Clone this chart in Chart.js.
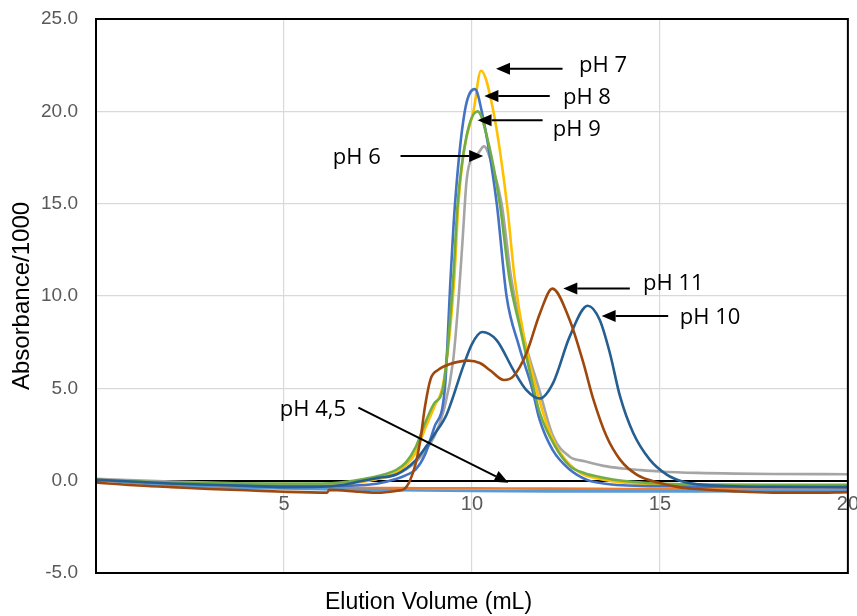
<!DOCTYPE html>
<html><head><meta charset="utf-8">
<script src="https://cdn.jsdelivr.net/npm/chart.js@4.4.1/dist/chart.umd.min.js"></script>
<style>html,body{margin:0;padding:0;background:#fff}#wrap{width:857px;height:616px}</style>
</head><body><div id="wrap"><canvas id="c" width="857" height="616"></canvas></div>
<script>
// Elution volume (mL) and absorbance/1000 for each pH
const vol_pH4 = [0, 1, 2, 3, 4, 6, 8, 10, 12, 14, 16, 18, 20];
const abs_pH4 = [0.05, -0.1, -0.2, -0.28, -0.32, -0.38, -0.4, -0.42, -0.43, -0.45, -0.47, -0.48, -0.48];

const vol_pH5 = [0, 1, 2, 3, 4, 6, 8, 10, 12, 14, 16, 18, 20];
const abs_pH5 = [0.05, -0.12, -0.25, -0.35, -0.4, -0.46, -0.52, -0.56, -0.58, -0.58, -0.58, -0.57, -0.56];

const vol_pH6 = [0, 2, 4, 6, 6.5, 7, 7.5, 8, 8.5, 8.75, 9, 9.25, 9.5, 9.65, 9.75, 9.86, 10, 10.15, 10.32, 10.55, 10.79, 11.05, 11.4, 11.78, 12.16, 12.6, 13, 13.5, 14, 14.5, 15, 16, 17, 18, 20];
const abs_pH6 = [0.1, -0.05, -0.15, -0.2, -0.15, -0.05, 0.1, 0.35, 1.0, 1.6, 2.4, 3.8, 6.5, 10.0, 13.0, 16.3, 17.5, 17.7, 18.1, 17.0, 15.0, 10.9, 7.6, 5.0, 2.4, 1.3, 1.05, 0.8, 0.66, 0.57, 0.5, 0.42, 0.38, 0.36, 0.35];

const vol_pH7 = [0, 2, 4, 6, 6.5, 7, 7.5, 8, 8.25, 8.5, 8.75, 9, 9.25, 9.53, 9.64, 9.8, 10.04, 10.24, 10.57, 10.93, 11.14, 11.4, 11.71, 12, 12.25, 12.5, 12.75, 13, 13.5, 14, 15, 16, 18, 20];
const abs_pH7 = [0.05, -0.15, -0.25, -0.3, -0.25, -0.1, 0.1, 0.45, 0.85, 1.5, 2.8, 4.0, 5.4, 10.9, 15.0, 18.0, 20.0, 22.2, 20.0, 15.0, 10.9, 7.6, 5.0, 3.0, 1.85, 1.1, 0.6, 0.3, 0.05, -0.1, -0.25, -0.3, -0.32, -0.32];

const vol_pH8 = [0, 2, 4, 6, 7, 7.5, 8, 8.25, 8.5, 8.75, 9, 9.28, 9.43, 9.55, 9.81, 10.08, 10.26, 10.66, 10.92, 11.25, 11.6, 11.8, 12.15, 12.6, 13.05, 13.5, 14, 15, 16, 18, 20];
const abs_pH8 = [0.05, -0.15, -0.25, -0.3, -0.25, -0.15, 0.1, 0.3, 0.6, 1.4, 2.9, 5.0, 10.9, 15.0, 20.0, 21.2, 20.0, 15.0, 10.0, 7.3, 5.0, 3.3, 1.65, 0.6, 0.05, -0.15, -0.25, -0.3, -0.32, -0.35, -0.35];

const vol_pH9 = [0, 2, 4, 6, 6.5, 7, 7.5, 8, 8.25, 8.5, 8.75, 9, 9.23, 9.5, 9.62, 9.85, 10.15, 10.45, 10.74, 11.0, 11.3, 11.64, 11.8, 12.2, 12.6, 13, 13.5, 14, 15, 16, 18, 20];
const abs_pH9 = [0.05, -0.1, -0.15, -0.15, -0.1, 0.05, 0.25, 0.6, 1.0, 1.8, 3.1, 4.2, 5.0, 10.9, 15.0, 18.6, 20.0, 18.2, 15.0, 10.9, 8.1, 5.0, 3.7, 1.9, 0.8, 0.4, 0.16, 0.0, -0.15, -0.2, -0.22, -0.22];

const vol_pH10 = [0, 2, 4, 5, 6, 6.5, 7, 7.5, 8, 8.5, 8.8, 9.0, 9.33, 9.77, 10.0, 10.27, 10.66, 11.1, 11.45, 11.8, 12.16, 12.6, 13.08, 13.4, 13.67, 13.94, 14.29, 14.73, 15.18, 15.6, 16, 17, 18, 20];
const abs_pH10 = [0.05, -0.15, -0.28, -0.35, -0.33, -0.25, -0.05, 0.15, 0.35, 1.1, 1.9, 2.5, 3.6, 6.2, 7.4, 8.05, 7.6, 6.0, 4.9, 4.45, 5.3, 7.8, 9.47, 8.7, 6.9, 4.56, 2.58, 1.14, 0.33, -0.05, -0.2, -0.3, -0.33, -0.35];

const vol_pH11 = [0, 1, 2, 3, 4, 5, 6.15, 6.2, 7, 7.5, 8.0, 8.2, 8.35, 8.5, 8.62, 8.75, 8.9, 9.1, 9.4, 9.9, 10.21, 10.5, 10.85, 11.1, 11.45, 11.81, 12.14, 12.6, 12.96, 13.23, 13.58, 13.94, 14.38, 15, 15.5, 16, 17, 18, 19, 20];
const abs_pH11 = [-0.1, -0.25, -0.35, -0.45, -0.52, -0.6, -0.65, -0.5, -0.6, -0.65, -0.55, -0.45, 0.0, 0.9, 2.1, 4.0, 5.5, 6.0, 6.3, 6.5, 6.37, 5.95, 5.45, 5.65, 6.9, 9.07, 10.4, 8.7, 6.4, 4.4, 2.4, 1.14, 0.33, -0.13, -0.35, -0.45, -0.58, -0.65, -0.65, -0.62];

const seriesNames = ['pH 11', 'pH 10', 'pH 9', 'pH 8', 'pH 7', 'pH 6', 'pH 5', 'pH 4'];
const seriesVol = [vol_pH11, vol_pH10, vol_pH9, vol_pH8, vol_pH7, vol_pH6, vol_pH5, vol_pH4];
const seriesAbs = [abs_pH11, abs_pH10, abs_pH9, abs_pH8, abs_pH7, abs_pH6, abs_pH5, abs_pH4];
const seriesColors = ['#9E480E', '#255E91', '#70AD47', '#4472C4', '#FFC000', '#A5A5A5', '#5B9BD5', '#ED7D31'];

// Annotation callouts (data units): label position, arrow tail, arrow tip
const callouts = [
  {text: 'pH 7', at: [12.85, 22.45], from: [12.41, 22.3], to: [10.64, 22.3]},
  {text: 'pH 8', at: [12.42, 20.71], from: [12.07, 20.83], to: [10.33, 20.83]},
  {text: 'pH 9', at: [12.15, 19.03], from: [11.88, 19.52], to: [10.15, 19.52]},
  {text: 'pH 6', at: [6.30, 17.51], from: [8.10, 17.58], to: [10.30, 17.58]},
  {text: 'pH 11', at: [14.55, 10.69], from: [14.20, 10.40], to: [12.43, 10.40]},
  {text: 'pH 10', at: [15.53, 8.85], from: [15.22, 8.92], to: [13.45, 8.92]},
  {text: 'pH 4,5', at: [4.89, 3.86], from: [6.98, 3.95], to: [10.97, -0.11]}
];

const datasets = seriesNames.map((n, i) => ({
  label: n,
  data: seriesVol[i].map((v, j) => ({x: v, y: seriesAbs[i][j]})),
  borderColor: seriesColors[i],
  backgroundColor: seriesColors[i],
  borderWidth: 2.6,
  pointRadius: 0,
  fill: false,
  cubicInterpolationMode: 'monotone'
}));

const calloutPlugin = {
  id: 'callouts',
  afterDatasetsDraw(chart) {
    const {ctx, scales: {x, y}, chartArea: ca} = chart;
    ctx.save();
    ctx.strokeStyle = '#000';
    ctx.fillStyle = '#000';
    ctx.lineWidth = 2;
    ctx.strokeRect(ca.left, ca.top, ca.right - ca.left, ca.bottom - ca.top);
    for (const c of callouts) {
      const x1 = x.getPixelForValue(c.from[0]), y1 = y.getPixelForValue(c.from[1]);
      const x2 = x.getPixelForValue(c.to[0]), y2 = y.getPixelForValue(c.to[1]);
      const ang = Math.atan2(y2 - y1, x2 - x1);
      const L = 14, W = 6;
      const bx = x2 - L * Math.cos(ang), by = y2 - L * Math.sin(ang);
      ctx.beginPath(); ctx.moveTo(x1, y1); ctx.lineTo(bx, by); ctx.stroke();
      ctx.beginPath();
      ctx.moveTo(x2, y2);
      ctx.lineTo(bx + W * Math.sin(ang), by - W * Math.cos(ang));
      ctx.lineTo(bx - W * Math.sin(ang), by + W * Math.cos(ang));
      ctx.closePath(); ctx.fill();
      ctx.font = '22px "Open Sans"';
      ctx.textBaseline = 'middle';
      ctx.textAlign = 'left';
      ctx.fillText(c.text, x.getPixelForValue(c.at[0]), y.getPixelForValue(c.at[1]));
    }
    ctx.restore();
  }
};

new Chart(document.getElementById('c'), {
  type: 'line',
  data: {datasets},
  options: {
    responsive: false,
    animation: false,
    devicePixelRatio: 1,
    layout: {padding: {top: 19, right: 0, left: 0, bottom: 0}},
    plugins: {
      legend: {display: false},
      tooltip: {enabled: false},
      title: {
        display: true, position: 'bottom', text: 'Elution Volume (mL)', color: '#000',
        font: {size: 23, family: 'Liberation Sans', weight: 'normal', lineHeight: 1},
        padding: {top: 18, bottom: 2}
      }
    },
    scales: {
      x: {
        type: 'linear', position: {y: 0}, min: 0, max: 20,
        ticks: {stepSize: 5, callback: v => v === 0 ? '' : String(v), color: '#595959',
          font: {size: 20, family: 'Liberation Sans'}, padding: -2, maxRotation: 0},
        grid: {color: '#D9D9D9', lineWidth: 1.2, drawTicks: true, tickLength: 14, tickColor: 'rgba(0,0,0,0)'},
        border: {display: true, color: '#000', width: 2}
      },
      y: {
        min: -5, max: 25,
        ticks: {stepSize: 5, callback: v => v.toFixed(1), color: '#595959',
          font: {size: 19, family: 'Liberation Sans'}, padding: 0},
        grid: {color: '#D9D9D9', lineWidth: 1.2, drawTicks: true, tickLength: 18, tickColor: 'rgba(0,0,0,0)'},
        border: {display: true, color: '#000', width: 2},
        title: {display: true, text: 'Absorbance/1000', color: '#000',
          font: {size: 24, family: 'Liberation Sans'}, padding: {top: 8, bottom: 0}},
        afterFit(s) { s.width = 96; }
      }
    }
  },
  plugins: [calloutPlugin]
});
</script></body></html>
